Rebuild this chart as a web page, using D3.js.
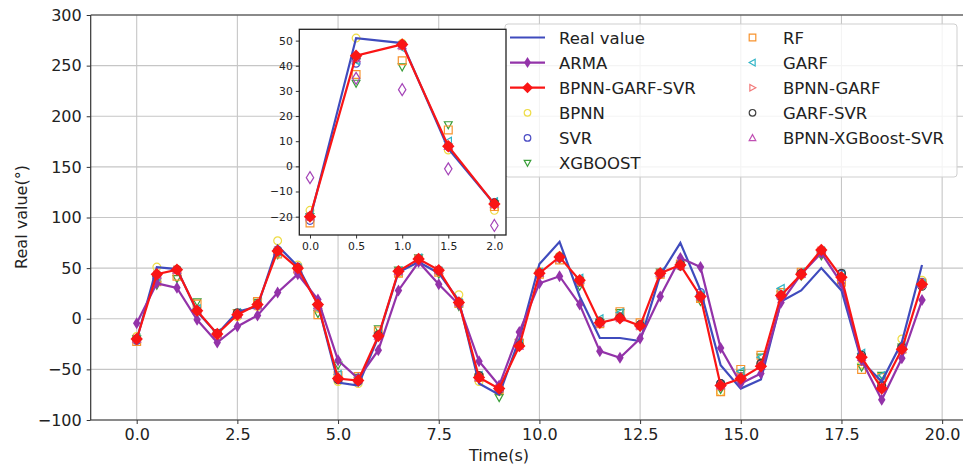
<!DOCTYPE html>
<html>
<head>
<meta charset="utf-8">
<script src="https://cdn.jsdelivr.net/npm/d3@7"></script>
<style>
  body { margin: 0; background: #fff; }
  text { font-family: "DejaVu Sans", sans-serif; fill: #222; }
</style>
</head>
<body>
<script>
const width = 963;
const height = 467;

// time axis (s)
const times = [0, 0.5, 1, 1.5, 2, 2.5, 3, 3.5, 4, 4.5, 5, 5.5, 6, 6.5, 7, 7.5, 8, 8.5, 9, 9.5,
  10, 10.5, 11, 11.5, 12, 12.5, 13, 13.5, 14, 14.5, 15, 15.5, 16, 16.5, 17, 17.5, 18, 18.5, 19, 19.5];

const realValue = [-21, 51, 49, 7, -15, 7, 12, 72, 52, 14, -63, -66, -18, 46, 56, 45, 18, -64, -75, -20,
  54, 76, 22, -19, -19, -22, 43, 75, 28, -46, -69, -60, 17, 28, 50, 28, -42, -62, -23, 53];
const arma = [-4.5, 35, 30.5, -1, -23.5, -7.6, 3.3, 26, 44, 19, -41, -59, -31, 28, 56, 34, 14, -42, -66, -13,
  35, 42, 14, -32, -38.5, -19.5, 22, 60, 51, -29, -64, -54, 16, 44, 65, 35, -41, -80, -39, 18.5];
const bpnnGarfSvr = [-20, 44, 48.5, 8, -15, 4, 14, 67, 50, 14, -59, -61, -17, 47, 59, 48, 16, -58, -69, -27,
  45, 61, 38, -4, 0.5, -7, 45, 53, 22, -66, -59, -47, 23, 44, 68, 41, -38, -69, -30, 34];

const bpnn = [-17.5, 51, 49, 6.5, -17.5, 2, 12, 77, 53, 10, -62, -64, -15, 45, 58, 47, 23.7, -62, -72, -24,
  47, 62, 36, -2, 2, -6, 44, 52, 20, -72, -57, -44, 26, 43, 64, 38, -45, -66, -20, 38];
const svr = [-21.5, 41, 48.5, 8, -14.5, 5, 13, 68, 51, 13, -60, -62, -16, 47, 58, 47, 15, -58, -70, -26,
  46, 60, 36, -3, 2, -6, 44, 52, 26, -64, -57, -45, 22, 44, 66, 44, -38, -67, -29, 36];
const xgboost = [-20, 33, 39.5, 16.5, -15, 6, 16, 63, 48, 5, -46, -58, -10, 48, 60, 44, 12, -58, -78, -24,
  43, 59, 32, -4, 6, -8, 46, 52, 17, -70, -54, -38, 24, 42, 62, 38, -48, -56, -28, 33];
const rf = [-22.5, 36.5, 42, 14.5, -16, 5, 17, 64, 49, 4, -56, -57, -12, 45, 58, 46, 15, -58, -70, -24,
  44, 58, 37, -5, 7, -4, 44, 54, 20, -72, -50, -36, 26, 46, 66, 36, -50, -58, -30, 35];
const garf = [-19, 42, 47, 10, -14, 6, 14, 66, 50, 10, -55, -58, -14, 47, 60, 47, 16, -56, -68, -25,
  46, 61, 40, 0, 6, -5, 46, 54, 24, -65, -52, -38, 30, 46, 67, 44, -34, -56, -27, 35];
const bpnnGarf = [-20, 43, 48, 9, -15, 4, 13, 67, 50, 12, -58, -60, -17, 46, 59, 48, 17, -57, -69, -27,
  45, 60, 38, -4, 1, -7, 45, 53, 23, -66, -58, -46, 23, 44, 67, 41, -38, -68, -30, 34];
const garfSvr = [-20, 43, 48.5, 8, -14.5, 6, 14, 67, 50, 14, -60, -61, -16, 47, 59, 48, 16, -56, -70, -26,
  45, 61, 38, -3, 1, -6, 45, 54, 22, -64, -60, -44, 22, 45, 67, 45, -36, -66, -28, 32];
const bpnnXgbSvr = [-20, 43, 48, 8, -15, 4, 13, 67, 49, 13, -58, -60, -17, 47, 59, 48, 16, -58, -69, -27,
  45, 60, 38, -4, 1, -7, 45, 53, 22, -66, -59, -47, 23, 44, 68, 41, -38, -69, -30, 34];

const xTicks = [0, 2.5, 5, 7.5, 10, 12.5, 15, 17.5, 20];
const yTicks = [-100, -50, 0, 50, 100, 150, 200, 250, 300];
const insetXTicks = [0, 0.5, 1, 1.5, 2];
const insetYTicks = [-20, -10, 0, 10, 20, 30, 40, 50];
const insetCount = 5; // inset shows the first 2 s

// scatter models: name, values, marker, colour
const scatterModels = [
  { name: "BPNN", values: bpnn, marker: "o", color: "#eedc45" },
  { name: "SVR", values: svr, marker: "o", color: "#4b4cc4" },
  { name: "XGBOOST", values: xgboost, marker: "v", color: "#3a9e3a" },
  { name: "RF", values: rf, marker: "s", color: "#f7932e" },
  { name: "GARF", values: garf, marker: "<", color: "#2fb4c6" },
  { name: "BPNN-GARF", values: bpnnGarf, marker: ">", color: "#f27878" },
  { name: "GARF-SVR", values: garfSvr, marker: "o", color: "#3e3e3e" },
  { name: "BPNN-XGBoost-SVR", values: bpnnXgbSvr, marker: "^", color: "#c04fb3" }
];

const blue = "#3f4bbd", purple = "#9333a9", red = "#fa1515";

function marker(type, r) {
  switch (type) {
    case "D": return `M0,${-r}L${r},0L0,${r}L${-r},0Z`;
    case "d": return `M0,${-r}L${r * 0.62},0L0,${r}L${-r * 0.62},0Z`;
    case "s": return `M${-r},${-r}H${r}V${r}H${-r}Z`;
    case "^": return `M0,${-r}L${r},${r * 0.8}L${-r},${r * 0.8}Z`;
    case "v": return `M0,${r}L${r},${-r * 0.8}L${-r},${-r * 0.8}Z`;
    case "<": return `M${-r},0L${r * 0.8},${-r}L${r * 0.8},${r}Z`;
    case ">": return `M${r},0L${-r * 0.8},${-r}L${-r * 0.8},${r}Z`;
    default: return `M${r},0A${r},${r} 0 1,1 ${-r},0A${r},${r} 0 1,1 ${r},0Z`;
  }
}

const svg = d3.select("body").append("svg")
  .attr("width", width)
  .attr("height", height);

// ---- main axes ----
const x = d3.scaleLinear().domain([-1.142, 20.642]).range([90.7, 968]);
const y = d3.scaleLinear().domain([-100, 300]).range([420, 15]);

const main = svg.append("g");

main.append("g").selectAll("line.gx")
  .data(xTicks).enter().append("line")
  .attr("x1", d => x(d)).attr("x2", d => x(d))
  .attr("y1", 15).attr("y2", 420)
  .attr("stroke", "#c6c6c6").attr("stroke-width", 1.1);
main.append("g").selectAll("line.gy")
  .data(yTicks).enter().append("line")
  .attr("x1", 90.7).attr("x2", 968)
  .attr("y1", d => y(d)).attr("y2", d => y(d))
  .attr("stroke", "#c6c6c6").attr("stroke-width", 1.1);

const xAxis = main.append("g")
  .attr("transform", "translate(0,420)")
  .call(d3.axisBottom(x).tickValues(xTicks).tickFormat(d3.format(".1f")).tickSize(4).tickPadding(5));
const yAxis = main.append("g")
  .attr("transform", "translate(90.7,0)")
  .call(d3.axisLeft(y).tickValues(yTicks).tickSize(4).tickPadding(5));
[xAxis, yAxis].forEach(a => {
  a.select(".domain").remove();
  a.selectAll("text").style("font-size", "16px").attr("fill", "#222");
  a.selectAll("line").attr("stroke", "#333");
});
main.append("line").attr("x1", 90.7).attr("x2", 968).attr("y1", 420).attr("y2", 420).attr("stroke", "#333").attr("stroke-width", 1.2);
main.append("line").attr("x1", 90.7).attr("x2", 968).attr("y1", 15).attr("y2", 15).attr("stroke", "#333").attr("stroke-width", 1.2);
main.append("line").attr("x1", 90.7).attr("x2", 90.7).attr("y1", 15).attr("y2", 420).attr("stroke", "#333").attr("stroke-width", 1.2);

main.append("text").attr("x", 499).attr("y", 461).attr("text-anchor", "middle")
  .style("font-size", "16px").text("Time(s)");
main.append("text").attr("transform", "translate(27,217) rotate(-90)").attr("text-anchor", "middle")
  .style("font-size", "16px").text("Real value(°)");

function drawSeries(g, xs, ys, n, withArmaLine) {
  const idx = d3.range(n);
  scatterModels.forEach(m => {
    g.append("g").selectAll("path")
      .data(idx).enter().append("path")
      .attr("transform", i => `translate(${xs(times[i])},${ys(m.values[i])})`)
      .attr("d", marker(m.marker, 3.9))
      .attr("fill", "none").attr("stroke", m.color).attr("stroke-width", 1.2);
  });
  const line = vals => d3.line().x(i => xs(times[i])).y(i => ys(vals[i]))(idx);
  g.append("path").attr("d", line(realValue)).attr("fill", "none").attr("stroke", blue).attr("stroke-width", 2.2);
  if (withArmaLine) {
    g.append("path").attr("d", line(arma)).attr("fill", "none").attr("stroke", purple).attr("stroke-width", 2.2);
    g.append("g").selectAll("path").data(idx).enter().append("path")
      .attr("transform", i => `translate(${xs(times[i])},${ys(arma[i])})`)
      .attr("d", marker("d", 6)).attr("fill", purple);
  } else {
    g.append("g").selectAll("path").data(idx).enter().append("path")
      .attr("transform", i => `translate(${xs(times[i])},${ys(arma[i])})`)
      .attr("d", marker("d", 6)).attr("fill", "none").attr("stroke", "#a545b8").attr("stroke-width", 1.2);
  }
  g.append("path").attr("d", line(bpnnGarfSvr)).attr("fill", "none").attr("stroke", red).attr("stroke-width", 2.2);
  g.append("g").selectAll("path").data(idx).enter().append("path")
    .attr("transform", i => `translate(${xs(times[i])},${ys(bpnnGarfSvr[i])})`)
    .attr("d", marker("D", 6.2)).attr("fill", red);
}

drawSeries(main.append("g"), x, y, times.length, true);

// ---- legend ----
const legend = svg.append("g");
legend.append("rect").attr("x", 505).attr("y", 24).attr("width", 452).attr("height", 153)
  .attr("rx", 3).attr("fill", "#fff").attr("fill-opacity", 0.8).attr("stroke", "#cfcfcf");

const legendItems = [
  { name: "Real value", kind: "line", color: blue },
  { name: "ARMA", kind: "line", color: purple, marker: "d" },
  { name: "BPNN-GARF-SVR", kind: "line", color: red, marker: "D" }
].concat(scatterModels.map(m => ({ name: m.name, kind: "scatter", color: m.color, marker: m.marker })));

legendItems.forEach((it, k) => {
  const col = k < 6 ? 0 : 1;
  const row = k < 6 ? k : k - 6;
  const cy = 37.5 + row * 25.1;
  const g = legend.append("g");
  if (it.kind === "line") {
    g.append("line").attr("x1", 510).attr("x2", 545).attr("y1", cy).attr("y2", cy)
      .attr("stroke", it.color).attr("stroke-width", 2.2);
    if (it.marker) g.append("path").attr("transform", `translate(527.5,${cy})`)
      .attr("d", marker(it.marker, 5.5)).attr("fill", it.color);
  } else {
    g.append("path").attr("transform", `translate(${col ? 752.5 : 527.5},${cy})`)
      .attr("d", marker(it.marker, 3.3)).attr("fill", "none").attr("stroke", it.color).attr("stroke-width", 1.2);
  }
  g.append("text").attr("x", col ? 783 : 559).attr("y", cy + 6)
    .style("font-size", "16.5px").text(it.name);
});

// ---- inset ----
const ix = d3.scaleLinear().domain([-0.116, 2.126]).range([299.3, 506]);
const iy = d3.scaleLinear().domain([-27.3, 54.5]).range([235, 29.3]);
const inset = svg.append("g");
inset.append("rect").attr("x", 299.3).attr("y", 29.3).attr("width", 206.7).attr("height", 205.7)
  .attr("fill", "#fff");
const ixAxis = inset.append("g").attr("transform", "translate(0,235)")
  .call(d3.axisBottom(ix).tickValues(insetXTicks).tickFormat(d3.format(".1f")).tickSize(3.5).tickPadding(4));
const iyAxis = inset.append("g").attr("transform", "translate(299.3,0)")
  .call(d3.axisLeft(iy).tickValues(insetYTicks).tickSize(3.5).tickPadding(3));
[ixAxis, iyAxis].forEach(a => {
  a.select(".domain").remove();
  a.selectAll("text").style("font-size", "10.8px").attr("fill", "#222");
  a.selectAll("line").attr("stroke", "#333");
});
drawSeries(inset.append("g"), ix, iy, insetCount, false);
inset.append("rect").attr("x", 299.3).attr("y", 29.3).attr("width", 206.7).attr("height", 205.7)
  .attr("fill", "none").attr("stroke", "#222").attr("stroke-width", 1.3);
</script>
</body>
</html>
